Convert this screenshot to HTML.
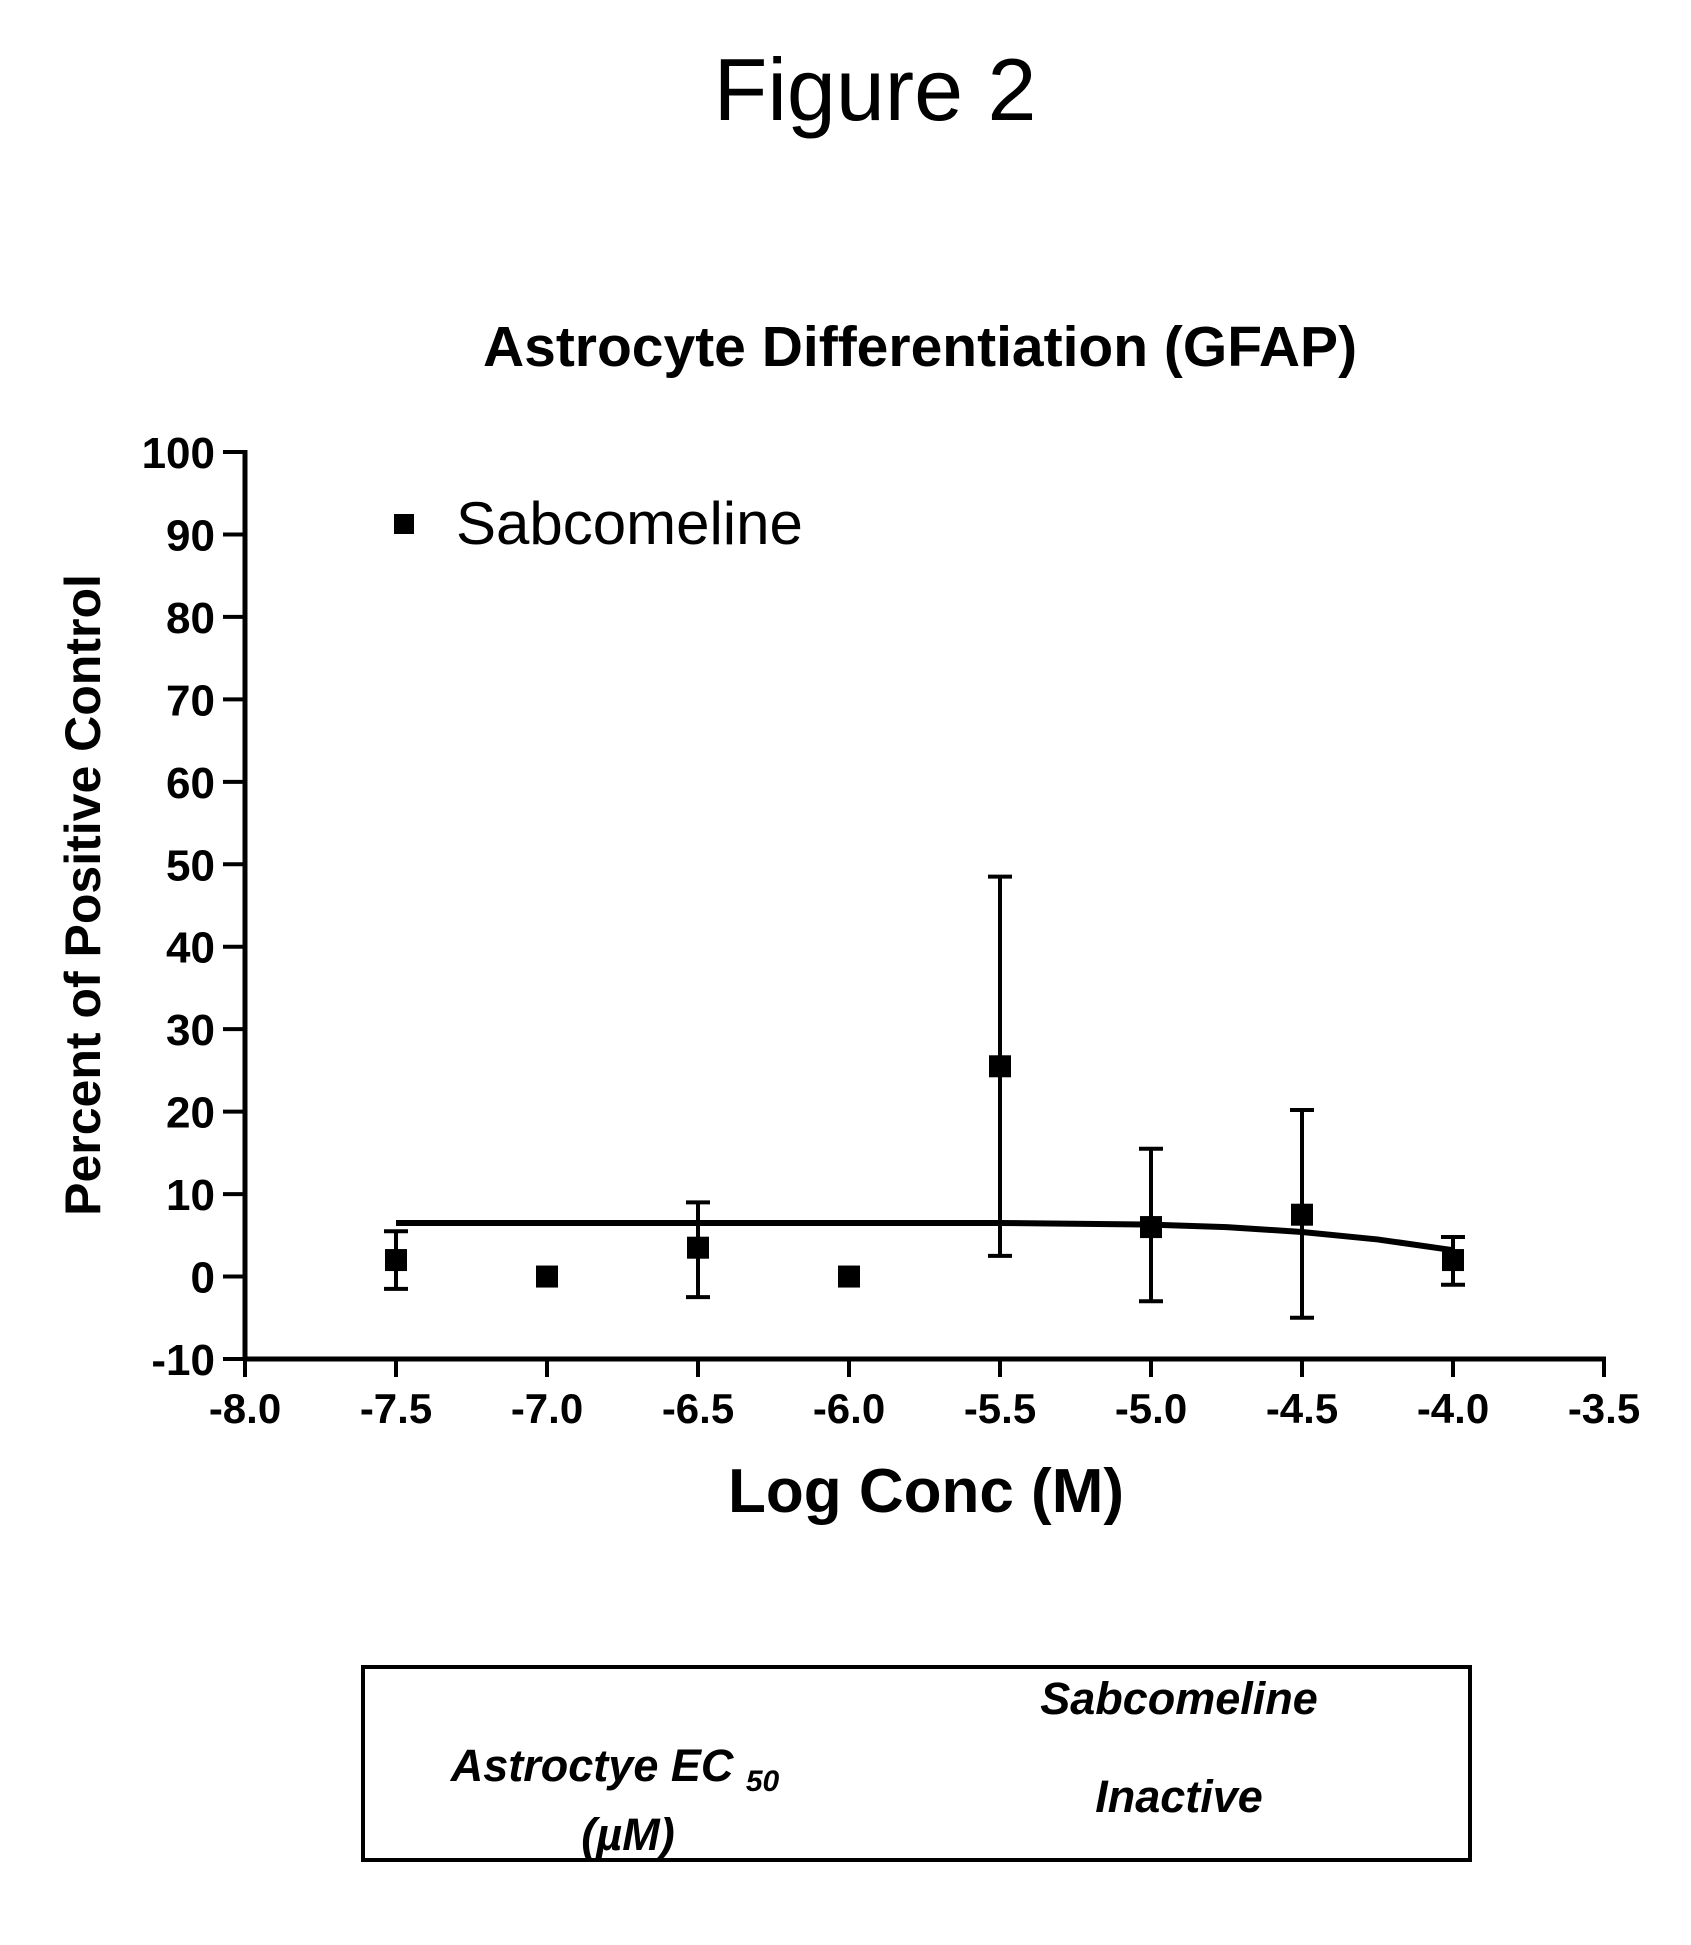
<!DOCTYPE html>
<html><head><meta charset="utf-8"><style>
html,body{margin:0;padding:0;background:#fff;}
svg{display:block;font-family:"Liberation Sans",Arial,sans-serif;}
</style></head><body>
<svg width="1691" height="1945" viewBox="0 0 1691 1945" xmlns="http://www.w3.org/2000/svg">
<text x="875" y="120" font-size="88" text-anchor="middle">Figure 2</text>
<text x="920" y="366" font-size="57" font-weight="bold" text-anchor="middle">Astrocyte Differentiation (GFAP)</text>
<text transform="translate(100,895) rotate(-90)" font-size="50" font-weight="bold" text-anchor="middle">Percent of Positive Control</text>
<text x="926" y="1512" font-size="62" font-weight="bold" text-anchor="middle">Log Conc (M)</text>
<g id="axes"></g>
<g id="marks"></g>
<rect x="394" y="514" width="20" height="20" fill="#000"/>
<text x="456" y="544" font-size="60">Sabcomeline</text>
<rect x="363" y="1667" width="1107" height="193" fill="none" stroke="#000" stroke-width="4"/>
<g font-size="45" font-weight="bold" font-style="italic" text-anchor="middle">
<text x="1179" y="1714">Sabcomeline</text>
<text x="1179" y="1812">Inactive</text>
<text x="615" y="1781">Astroctye EC <tspan font-size="30" dy="10">50</tspan></text>
<text x="628" y="1850">(µM)</text>
</g>
</svg>
<script>
const xs = [-7.5,-7.0,-6.5,-6.0,-5.5,-5.0,-4.5,-4.0];
const ys = [2,0,3.5,0,25.5,6,7.5,2];
const errLo = [-1.5,null,-2.5,null,2.5,-3,-5,-1];
const errHi = [5.5,null,9,null,48.5,15.5,20.2,4.8];
const curveX = [-7.5,-6.5,-5.5,-5.0,-4.75,-4.5,-4.25,-4.0];
const curveY = [6.5,6.5,6.5,6.3,6.0,5.4,4.5,3.2];
const xTicks = ["-8.0","-7.5","-7.0","-6.5","-6.0","-5.5","-5.0","-4.5","-4.0","-3.5"];
const yTicks = ["-10","0","10","20","30","40","50","60","70","80","90","100"];
const NS="http://www.w3.org/2000/svg";
const X0=245,X1=1604,Y0=1359,Y1=452;
function sx(v){return X0+(v+8)/4.5*(X1-X0);}
function sy(v){return Y0-(v+10)/110*(Y0-Y1);}
function mk(t,a,p){const e=document.createElementNS(NS,t);for(const k in a)e.setAttribute(k,a[k]);p.appendChild(e);return e;}
const ax=document.getElementById('axes'), mg=document.getElementById('marks');
let l=mk('line',{x1:X0,y1:Y1-2,x2:X0,y2:Y0+2,stroke:'#000','stroke-width':5},ax);


l=mk('line',{x1:X0-2,y1:Y0,x2:X1+2,y2:Y0,stroke:'#000','stroke-width':5},ax);


yTicks.forEach(t=>{const y=sy(+t);
 mk('line',{x1:X0-22,y1:y,x2:X0,y2:y,stroke:'#000','stroke-width':4},ax);
 const tx=mk('text',{x:X0-30,y:y+16,'font-size':44,'font-weight':'bold','text-anchor':'end'},ax);tx.textContent=t;
 
 });
xTicks.forEach(t=>{const x=sx(+t);
 mk('line',{x1:x,y1:Y0,x2:x,y2:Y0+18,stroke:'#000','stroke-width':4},ax);
 const tx=mk('text',{x:x,y:Y0+64,'font-size':42,'font-weight':'bold','text-anchor':'middle'},ax);tx.textContent=t;
 
 });
const pts=curveX.map((v,i)=>sx(v)+','+sy(curveY[i])).join(' ');
const c=mk('polyline',{points:pts,fill:'none',stroke:'#000','stroke-width':6,'stroke-linejoin':'round'},mg);


xs.forEach((v,i)=>{const x=sx(v);
 if(errLo[i]!==null){
  const g=mk('g',{stroke:'#000','stroke-width':4},mg);
  
  
  mk('line',{x1:x,y1:sy(errLo[i]),x2:x,y2:sy(errHi[i])},g);
  mk('line',{x1:x-12,y1:sy(errLo[i]),x2:x+12,y2:sy(errLo[i])},g);
  mk('line',{x1:x-12,y1:sy(errHi[i]),x2:x+12,y2:sy(errHi[i])},g);
 }
 const r=mk('rect',{x:x-11,y:sy(ys[i])-11,width:22,height:22,fill:'#000'},mg);
 
 
});
</script>
</body></html>
